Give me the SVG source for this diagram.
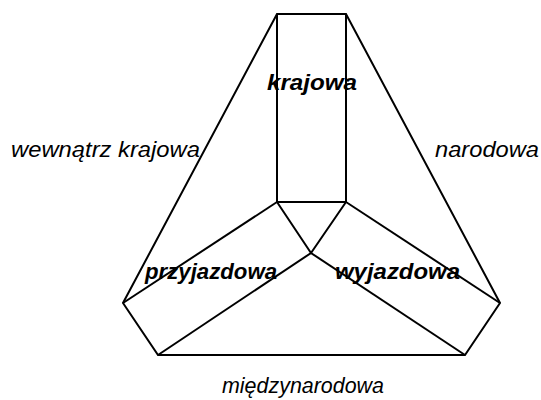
<svg xmlns="http://www.w3.org/2000/svg" width="541" height="400" viewBox="0 0 541 400">
<style>
.ln{fill:none;stroke:#000;stroke-width:2;stroke-linejoin:miter}
.t{font-family:"Liberation Sans",Arial,sans-serif;font-style:italic;font-size:22px;fill:#000}
.b{font-weight:bold}
</style>
<rect width="541" height="400" fill="#fff"/>
<g id="connectors">
<polygon class="ln" points="277,14 346,14 500,303 465,355 158,355 123,303"/>
<line class="ln" x1="277" y1="14" x2="277" y2="202"/>
<line class="ln" x1="346" y1="14" x2="346" y2="202"/>
<line class="ln" x1="277" y1="202" x2="346" y2="202"/>
<polyline class="ln" points="277,202 311,253 346,202"/>
<line class="ln" x1="277" y1="202" x2="123" y2="303"/>
<line class="ln" x1="311" y1="253" x2="158" y2="355"/>
<line class="ln" x1="346" y1="202" x2="500" y2="303"/>
<line class="ln" x1="311" y1="253" x2="465" y2="355"/>
</g>
<g id="krajowa"><text class="t b" x="267" y="90" textLength="90" lengthAdjust="spacingAndGlyphs">krajowa</text></g>
<g id="przyjazdowa"><text class="t b" x="145" y="279" textLength="132" lengthAdjust="spacingAndGlyphs">przyjazdowa</text></g>
<g id="wyjazdowa"><text class="t b" x="335" y="279" textLength="125" lengthAdjust="spacingAndGlyphs">wyjazdowa</text></g>
<g id="wewnatrz"><text class="t" x="11" y="157" textLength="189" lengthAdjust="spacingAndGlyphs">wewnątrz krajowa</text></g>
<g id="narodowa"><text class="t" x="435" y="157" textLength="104" lengthAdjust="spacingAndGlyphs">narodowa</text></g>
<g id="miedzynarodowa"><text class="t" x="222" y="393" textLength="162" lengthAdjust="spacingAndGlyphs">międzynarodowa</text></g>
</svg>
